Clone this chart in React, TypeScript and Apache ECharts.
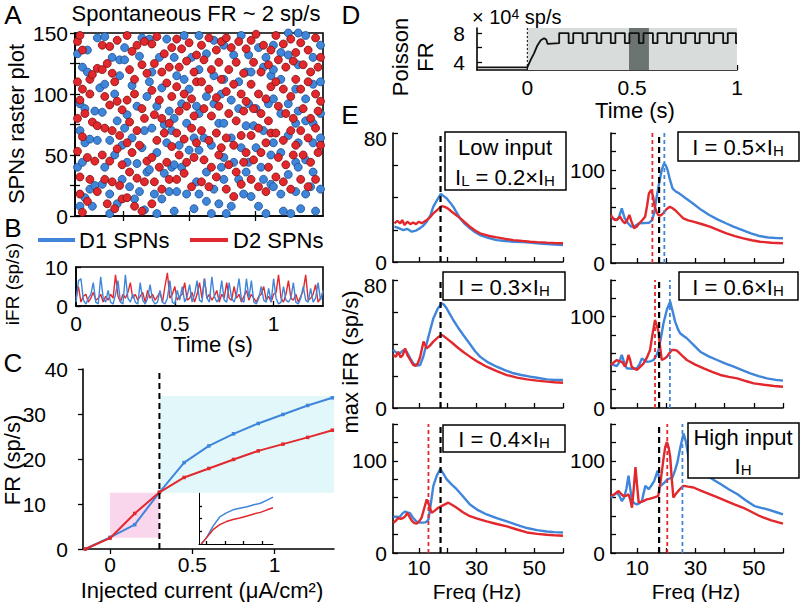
import React, { useEffect, useRef } from 'react';
import * as echarts from 'echarts';

const FONT = '"Liberation Sans", Arial, Helvetica, sans-serif';
const BLUE = '#3f86db';
const RED = '#e2282c';

// ---------- Panel A: raster (x: time bin 0-100, y: neuron 0-150)
const rasterRed: number[][] = [
  [1,143],[2,148],[3,136],[1,110],[3,104],[2,95],[6,112],[6,100],[4,84],[1,80],[7,77],[9,74],[3,65],[1,53],[5,48],[8,45],[2,32],[6,30],[2,18],[5,12],[9,20],[3,3],[7,116],[9,121],
  [11,120],[13,125],[15,117],[12,98],[14,91],[17,94],[19,87],[12,72],[15,70],[18,66],[11,50],[14,45],[17,55],[19,42],[12,30],[15,28],[18,25],[13,10],[16,6],[19,14],[11,140],[14,139],[17,144],[16,110],
  [21,148],[23,135],[25,140],[28,143],[22,120],[24,112],[27,124],[29,117],[21,95],[24,100],[27,88],[22,77],[25,70],[28,80],[21,60],[23,52],[26,58],[29,45],[22,36],[25,31],[28,28],[21,15],[24,8],[27,4],
  [31,141],[33,147],[36,133],[39,138],[32,125],[35,118],[38,122],[31,103],[34,95],[37,109],[39,98],[32,83],[35,80],[38,76],[33,62],[36,68],[39,57],[31,48],[34,40],[37,44],[32,28],[35,22],[38,30],[31,10],
  [41,145],[43,137],[46,142],[49,132],[42,122],[45,127],[48,118],[41,106],[44,100],[47,96],[49,110],[42,86],[45,90],[48,82],[41,68],[44,63],[47,72],[49,60],[42,50],[45,44],[48,48],[41,30],[44,35],[47,24],
  [51,140],[54,146],[57,136],[59,143],[52,128],[55,120],[58,126],[51,110],[54,104],[57,97],[59,112],[52,88],[55,82],[58,90],[51,70],[54,62],[57,68],[59,56],[52,46],[55,40],[58,50],[51,28],[54,24],[57,32],
  [61,146],[63,138],[66,143],[69,137],[62,120],[65,126],[68,117],[61,102],[64,108],[67,100],[69,94],[62,84],[65,78],[68,86],[61,64],[64,58],[67,66],[69,52],[62,42],[65,36],[68,44],[61,22],[64,16],[67,26],
  [71,144],[73,149],[76,140],[79,136],[72,126],[75,118],[78,124],[71,108],[74,100],[77,96],[79,106],[72,88],[75,84],[78,78],[71,66],[74,72],[77,60],[79,68],[72,46],[75,52],[78,40],[71,30],[74,24],[77,20],
  [81,148],[84,141],[87,145],[89,134],[82,128],[85,122],[88,127],[81,110],[84,104],[87,98],[89,112],[82,90],[85,84],[88,80],[81,68],[84,62],[87,70],[89,58],[82,48],[85,42],[88,50],[81,32],[84,28],[87,22],
  [91,142],[94,136],[97,146],[99,130],[92,124],[95,118],[98,122],[91,104],[94,110],[97,100],[99,94],[92,88],[95,80],[98,86],[91,70],[94,64],[97,72],[99,58],[92,50],[95,44],[98,52],[91,30],[94,24],[97,30]
];
const rasterBlue: number[][] = [
  [1,133],[3,122],[5,118],[2,92],[4,88],[2,70],[4,60],[6,63],[1,40],[3,44],[6,22],[8,25],[4,15],[7,8],[9,62],[8,86],[5,136],[9,146],[10,105],[2,8],
  [12,147],[15,130],[18,128],[12,108],[16,100],[11,85],[14,62],[17,78],[12,40],[16,50],[19,58],[11,26],[14,18],[17,10],[19,30],[14,2],[18,115],[20,138],
  [20,128],[26,131],[23,107],[29,98],[21,83],[25,90],[28,70],[23,64],[27,56],[21,44],[25,43],[29,36],[22,24],[26,20],[24,14],[28,5],[20,72],[27,146],[30,110],
  [30,145],[34,130],[37,145],[31,118],[35,105],[33,90],[38,86],[31,72],[36,75],[33,52],[37,60],[30,38],[36,35],[39,40],[32,18],[35,14],[38,20],[33,2],[39,70],
  [40,130],[44,148],[47,130],[41,115],[46,104],[43,92],[49,90],[40,80],[45,76],[42,58],[48,64],[40,42],[46,54],[43,40],[49,28],[41,20],[45,18],[48,6],[40,4],[44,112],
  [50,148],[53,133],[56,144],[50,120],[56,115],[53,98],[59,100],[50,84],[56,92],[52,64],[58,76],[50,54],[55,58],[53,36],[59,40],[50,18],[56,22],[53,12],[58,10],[55,2],
  [60,140],[64,132],[67,148],[60,112],[66,110],[63,95],[69,118],[60,76],[66,88],[63,64],[69,74],[60,48],[67,56],[64,44],[60,30],[66,30],[63,8],[68,18],[61,2],[69,36],
  [70,132],[74,138],[77,130],[71,118],[76,122],[73,88],[79,115],[70,92],[76,70],[72,74],[78,92],[70,44],[75,40],[73,56],[79,50],[71,16],[76,30],[74,8],[79,26],[77,2],
  [80,140],[83,134],[86,150],[80,120],[86,132],[83,112],[89,104],[80,96],[86,92],[83,84],[89,76],[80,60],[86,66],[83,52],[89,44],[80,24],[86,34],[83,18],[89,20],[84,4],[87,2],
  [90,150],[93,148],[96,130],[99,140],[90,124],[96,108],[93,96],[99,110],[90,86],[96,76],[93,78],[99,84],[90,60],[96,60],[93,46],[99,64],[90,40],[96,36],[93,18],[99,22],[91,6],[97,4],[95,24]
];
const rasterXTicks = [19.5, 46, 72.5];

// ---------- Panel B: instantaneous firing rate, sampled every bTimeStep s
const bTimeStep = 0.0125;
const bD1 = [1,6.5,7,1.5,0.5,2,3,6,1,0.5,7.5,2,1,4,1,0.5,3,6.5,1,0.5,8,2,1,3,1,0.5,6,1.5,0.5,2,5.5,1.5,0.5,1,4,1,0.5,2,6.5,1,0.5,4,1.5,5,1,2.5,5.5,1,3,6.5,1.5,1,7,2,1,7.5,2.5,1,2,6.5,1.5,1,6,2,1,3,7,1.5,1,7,2,6.5,1,0.5,2,5,1.5,1,4.5,1,7,2,0.5,1,5,1.5,1,2,6,1,0.5,2,5,1.5,1,4.5,1,2,6,1.5,4];
const bD2 = [2,5,1,2.5,3,1,2,3.5,1.5,2,3,1,2.5,1.5,3,2,8,2.5,1,3,2,3.5,6,2,3,1.5,2.5,3.5,1,4,2,3,1.5,2.5,3.5,1,5,8.5,2,3,5,1.5,2.5,3,6,1.5,2,3.5,1,3,6,2,7,2,3,1.5,2.5,4,1,3,2,6,2,1.5,5,2,3,1,2.5,4,1.5,3,2,1,2.5,3,5,1.5,2.5,1,3,3.5,8,2,1,3,6.5,2,1.5,3,1,2.5,4,8,1.5,2,3,5.5,1,2,3.5];

// ---------- Panel C: f-I curves
const cCurrent = [-0.15, 0, 0.15, 0.3, 0.45, 0.6, 0.75, 0.9, 1.05, 1.2, 1.35];
const cD1 = [0, 2.6, 5.4, 12.6, 19.2, 22.9, 25.6, 27.9, 29.9, 31.9, 33.6];
const cD2 = [0, 2.4, 7.9, 12.6, 15.9, 17.9, 19.9, 21.8, 23.3, 24.8, 26.4];
const cThreshold = 0.3;
const cLowRange = { x: [0, 0.3], y: [2.5, 12.5] };
const cHighRange = { x: [0.3, 1.36], y: [12.5, 34] };
const cInsetX = [0.03, 0.1, 0.19, 0.28, 0.37, 0.46, 0.55, 0.65, 0.74, 0.83, 0.92, 1];
const cInsetD1 = [0, 0.12, 0.35, 0.53, 0.61, 0.67, 0.7, 0.73, 0.77, 0.8, 0.86, 0.92];
const cInsetD2 = [0, 0.12, 0.28, 0.38, 0.44, 0.48, 0.51, 0.55, 0.59, 0.62, 0.67, 0.71];

// ---------- Panel D: Poisson input rate (x 10^4 sp/s)
const dTrace: number[][] = [[-0.24,3.25],[0,3.25],[0.016,4.3],[0.032,5.2],[0.048,6.3],[0.064,7.0],[0.08,7.3],[0.09,7.1],[0.097,6.5],[0.152,6.6],[0.152,8],[0.197,8],[0.197,6.6],[0.219,6.6],[0.219,8],[0.264,8],[0.264,6.6],[0.286,6.6],[0.286,8],[0.331,8],[0.331,6.6],[0.353,6.6],[0.353,8],[0.398,8],[0.398,6.6],[0.42,6.6],[0.42,8],[0.465,8],[0.465,6.6],[0.487,6.6],[0.487,8],[0.532,8],[0.532,6.6],[0.554,6.6],[0.554,8],[0.599,8],[0.599,6.6],[0.621,6.6],[0.621,8],[0.666,8],[0.666,6.6],[0.688,6.6],[0.688,8],[0.733,8],[0.733,6.6],[0.755,6.6],[0.755,8],[0.8,8],[0.8,6.6],[0.822,6.6],[0.822,8],[0.867,8],[0.867,6.6],[0.889,6.6],[0.889,8],[0.934,8],[0.934,6.6],[0.956,6.6],[0.956,8],[0.995,8],[0.995,6.6],[1,6.6]];
const dStimOn = [0, 1];
const dWindow = [0.485, 0.58];

// ---------- Panel E: max iFR vs frequency
const e1D1 = [[1.5,22],[3,21],[4.6,19.8],[6,20.5],[7.5,18.8],[9,19.5],[10.4,21],[11.5,22.5],[12.7,25],[14,29],[15,34.3],[16.5,39],[17.6,42.2],[18.5,41],[19.6,39.5],[21,36.5],[21.9,34.3],[23,31],[24.3,27],[26,23.5],[27.7,20.9],[29.5,18.5],[31.2,16.7],[34,15],[37,13.6],[40,13],[42.8,12.6],[46,12.3],[48.6,12],[51,11.6],[54.4,11.2],[57,10.8],[60,10.5]];
const e1D2 = [[1.5,24],[2.5,25.5],[3.5,24],[4.2,26],[5,23],[6,25],[7,23.5],[8,24.5],[9,23.5],[10,25],[11,24],[12.7,26],[14,28],[15,30.2],[16.5,32.5],[17.9,34.7],[19,34.2],[20,33.3],[21.5,31],[23,29],[24.3,27.2],[26,24.5],[27.7,21.9],[29.5,19.5],[31.2,17.8],[34,16.3],[37,15.3],[40,14.3],[42.8,13.6],[46,13],[48.6,12.6],[51,12.3],[54.4,12],[57,11.8],[60,11.6]];
const e2D1 = [[1,49.9],[2,47.5],[3,46.3],[3.8,50],[4.7,58.9],[5.7,48.1],[6.8,43],[7.9,39.1],[9.3,40],[10.7,42.8],[12.4,43],[14.1,43.4],[15,46],[15.8,53.5],[16.6,70],[17.5,85.8],[18.4,100],[19.2,107.4],[19.8,105],[20.4,100.2],[21.2,90],[22.1,80.4],[23.2,77],[24.4,75],[26.5,70],[29,64.3],[31.8,57.5],[34.7,51.7],[37.5,47],[40.4,42.8],[43.2,39],[46.1,35.5],[49,32],[51.8,29.1],[55,27.5],[58,26.8],[60,26.6]];
const e2D2 = [[1,51.7],[1.7,48],[2.4,46.3],[3.2,47],[4.1,49.9],[5,45],[5.8,42.8],[6.5,46],[7.3,51.7],[8.1,44],[8.9,37.4],[9.8,39],[10.7,42.8],[11.7,46],[12.7,49.9],[13.4,62],[14,75],[14.8,78.6],[15.4,72],[16,60.6],[16.6,55],[17.2,51.7],[18,51],[18.9,53.5],[20,58],[21.2,60.6],[22.1,59],[22.9,57.1],[24.4,52.5],[25.8,48.1],[27.5,46],[29.2,44.5],[32,42],[34.9,39.1],[37.8,35.5],[40.6,32],[43.5,29],[46.4,26.6],[49.3,24.5],[52.1,22.9],[56,21.8],[60,21.2]];
const e3D1 = [[1.1,36.3],[2.2,34.5],[3.4,34.2],[4.5,36],[5.7,35.2],[7,31],[8,27.9],[9.2,26.5],[10.4,26.9],[11.5,32],[12.7,40.4],[13.8,48],[15,56],[16.5,62],[17.9,65.4],[18.7,64.5],[19.6,62.3],[20.8,58.5],[21.9,55],[23.5,50.5],[25.4,45.6],[27.5,40.5],[29.5,35.5],[31.2,32.1],[34,28.5],[37,25.8],[40,23.5],[42.8,21.7],[45.5,20.6],[48.6,19.6],[51,18.9],[54.4,17.9],[57,17.6],[60,17.5]];
const e3D2 = [[1.1,33.1],[2,32],[2.8,35.2],[3.6,31.7],[4.4,33],[5.2,37.3],[6,33],[7,30],[8,27],[8.8,26.3],[9.6,28],[10.4,31.7],[11.6,41.5],[12.7,37.3],[13.8,39],[15,41.5],[16.5,44],[17.9,45.6],[18.7,44.8],[19.6,43.5],[21.5,40.8],[23.1,38.3],[25.4,35],[27.7,32.1],[30.5,28.8],[33.5,25.8],[37,23],[40.5,20.6],[44,19],[47.5,17.9],[51,17.1],[54.4,16.5],[57,16.1],[60,15.8]];
const e4D1 = [[1,48.9],[2,47],[3,45.9],[3.8,50],[4.7,58],[5.5,50],[6.4,43.4],[8,43],[9.9,43.4],[10.8,48],[11.6,54.3],[12.5,52],[13.3,50.6],[14.5,51],[15.6,52.5],[16.5,57],[17.3,63.5],[18.2,78],[19,92.7],[20.2,108],[21.3,116.3],[22.2,105],[23,94.5],[24,86],[24.7,81.7],[25.8,79],[27,76.3],[29.3,69],[31.6,61.6],[34.5,56.5],[37.4,52.5],[40.3,48.5],[43.1,45.2],[46,41.5],[48.8,37.9],[51.6,34.8],[54.5,32.4],[57.5,30.8],[60,29.9]];
const e4D2 = [[1,47],[2,50],[3,52.5],[3.8,51],[4.7,50.6],[5.3,48],[5.8,45.2],[6.4,50],[7,58],[7.6,52],[8.1,45.2],[9,43],[9.9,41.6],[11,45],[12.2,48.9],[13.3,55],[14.4,63.5],[15.2,80],[16.1,96.3],[16.7,90],[17.3,83.5],[17.8,68],[18.4,52.5],[19.3,54],[20.2,56.1],[21,60],[21.9,63.5],[22.8,63.5],[23.6,62.7],[25.3,57.5],[27,52.5],[29.9,47.5],[32.8,43.4],[35.7,39.5],[38.5,36.1],[41.4,34],[44.3,32.4],[47.2,29.5],[50,27],[53.5,25.5],[56.9,24.1],[60,23.3]];
const e5D1 = [[1.1,39.4],[2.2,39],[3.4,39.4],[4.3,43],[5.2,45],[6,44],[6.9,43.2],[8,38],[9.2,34],[10.4,33],[11.6,33],[12.5,33.5],[13.3,36.3],[14.2,55],[15,72.9],[16.2,84],[17.4,91.2],[18.5,86],[19.6,80.2],[21.3,74.5],[23.1,69.2],[25.4,61],[27.7,52.7],[30.5,46.5],[33.5,41.8],[37,37.8],[40.5,34.4],[44,30.5],[47.5,27.1],[51,24.8],[54.4,23.4],[57,22.7],[60,22.3]];
const e5D2 = [[1.1,32.6],[2,35],[2.8,38.1],[3.7,37],[4.6,38.1],[5.3,40],[6,43.6],[6.8,39],[7.5,35.2],[8.4,32.5],[9.2,31.9],[10,34],[10.9,38.1],[11.8,48],[12.7,58.2],[13.5,52],[14.4,43.6],[15.5,46],[16.7,49.1],[18.5,52],[20.2,54.6],[21.6,52],[23.1,49.1],[25.4,44],[27.7,39.9],[30.5,37],[33.5,34.4],[37,31.5],[40.5,28.9],[44,25.5],[47.5,22.3],[51,20.8],[54.4,19.8],[57,19.2],[60,18.7]];
const e6D1 = [[1,60.1],[2,63],[3,65.6],[3.9,62],[4.7,56.4],[5.5,60],[6.3,70],[7,83.8],[7.6,70],[8.2,56.4],[9,54],[9.9,52.7],[10.8,54],[11.6,56.4],[12.2,65],[12.8,72.9],[13.4,71],[13.9,69.2],[14.8,73],[15.8,78],[17,89.3],[17.6,80],[18.1,72.9],[19.2,76],[20.4,80.2],[21.3,81],[22.1,82.1],[23,90],[23.8,98.6],[24.8,115],[25.9,129.7],[26.6,122],[27.3,109.6],[27.8,98],[28.4,91.2],[29.5,89],[30.7,87.6],[32.4,85.5],[34.1,83.8],[36.4,79],[38.7,74.7],[41.5,69],[44.4,63.7],[47.3,57],[50.2,50.9],[52.5,49],[54.7,47.3],[57.5,44.5],[60,41.8]];
const e6D2 = [[1,61.9],[2.3,64],[3.6,67.4],[4.5,64],[5.3,61.9],[6.2,62],[7,63.7],[7.6,58],[8.2,49.1],[8.8,70],[9.4,93.1],[9.9,75],[10.5,54.6],[11.9,56],[13.3,58.2],[14.5,59],[15.6,60.1],[16.4,61],[17.2,61.9],[18.1,80],[19,102.2],[19.6,115],[20.2,120.5],[20.8,114],[21.3,104.6],[21.8,82],[22.4,60.1],[23.2,64],[24.1,67.4],[25,70.5],[25.8,72.9],[27.5,72],[29.3,71.1],[32,67.5],[35,63.7],[37.8,60],[40.6,56.4],[43.5,52.5],[46.4,49.1],[49.3,44.5],[52.1,39.9],[56,35.5],[60,31.9]];
const eResonance = 17.5;
const eD2Peak = [null, 15.2, null, 16.1, 13.3, 20.3];
const eD1Peak = [null, 19.3, null, 21.2, null, 25.5];
const eYMax = [80, 140, 80, 140, 140, 140];
const eFreqTicks = [10, 20, 30, 40, 50, 60];
const eFreqLabels = [10, 30, 50];

// ---------- styling helpers
const tickStyle = { color: '#000', width: 1.3 };
const axLine = { show: true, onZero: false, lineStyle: { color: '#000', width: 1.6 } };
const lbl = (extra: any = {}) => ({ show: true, color: '#000', fontSize: 21, fontFamily: FONT, ...extra });
const noSplit = { show: false };

function axis(gridIndex: number, min: number, max: number, tick: any, label: any, extra: any = {}) {
  return {
    type: 'value', gridIndex, min, max,
    axisLine: axLine, splitLine: noSplit,
    axisTick: tick ? { show: true, inside: true, length: 5, lineStyle: tickStyle, ...tick } : { show: false },
    axisLabel: label ? lbl(label) : { show: false },
    ...extra,
  };
}

const eGrids = [
  { left: 393, top: 133, width: 170, height: 129 },
  { left: 611, top: 133, width: 172, height: 130 },
  { left: 393, top: 280, width: 170, height: 128 },
  { left: 611, top: 280, width: 172, height: 128 },
  { left: 393, top: 424, width: 170, height: 129 },
  { left: 611, top: 424, width: 172, height: 129 },
];
const eData = [[e1D1, e1D2], [e2D1, e2D2], [e3D1, e3D2], [e4D1, e4D2], [e5D1, e5D2], [e6D1, e6D2]];

function buildOption() {
  const grid: any[] = [
    { left: 75, top: 33, width: 248, height: 183, show: true, borderColor: '#000', borderWidth: 1.6 },
    { left: 76, top: 267, width: 247, height: 39, show: true, borderColor: '#000', borderWidth: 1.6 },
    { left: 83, top: 369, width: 251, height: 180 },
    { left: 199, top: 493, width: 74, height: 51 },
    { left: 477, top: 28, width: 260, height: 42 },
    ...eGrids,
  ].map((g) => ({ ...g, outerBoundsMode: 'none', containLabel: false }));

  const xAxis: any[] = [];
  const yAxis: any[] = [];
  // A (0)
  xAxis.push(axis(0, 0, 100, { customValues: rasterXTicks }, null));
  yAxis.push(axis(0, 0, 150, {}, { margin: 7, formatter: (v: number) => (v % 50 === 0 ? String(v) : '') }, { interval: 25 }));
  // B (1)
  xAxis.push(axis(1, 0, 1.25, { customValues: [0.5, 1] }, { margin: 7, customValues: [0, 0.5, 1] }));
  yAxis.push(axis(1, 0, 10, {}, { margin: 8 }, { interval: 10 }));
  // C (2)
  xAxis.push(axis(2, -0.164, 1.36, { inside: false, customValues: [0, 0.5, 1] }, { margin: 5, customValues: [0, 0.5, 1] }));
  yAxis.push(axis(2, 0, 40, { inside: false }, {
    margin: 15,
    formatter: (v: number) => (v === 0 || v === 40 ? String(v) : `{s|${v}}`),
    rich: { s: { fontSize: 21, fontFamily: FONT, color: '#000', padding: [0, 22, 0, 0] } },
  }, { interval: 10 }));
  // C inset (3)
  xAxis.push(axis(3, 0, 1, { length: 3, customValues: [0.1, 0.35, 0.6, 0.85] }, null, { axisLine: { show: true, onZero: false, lineStyle: { color: '#000', width: 1 } } }));
  yAxis.push(axis(3, 0, 1, { length: 3, customValues: [0.25, 0.5, 0.75] }, null, { axisLine: { show: true, onZero: false, lineStyle: { color: '#000', width: 1 } } }));
  // D (4)
  xAxis.push(axis(4, -0.24, 1, { customValues: [0, 0.5, 1] }, { margin: 7, customValues: [0, 0.5, 1] }));
  yAxis.push(axis(4, 2.9, 8.7, { customValues: [4, 6, 8] }, { margin: 12, customValues: [4, 8] }));
  // E (5..10)
  eGrids.forEach((_, i) => {
    const g = 5 + i;
    const bottom = i >= 4;
    xAxis.push(axis(g, 1, 60, { customValues: eFreqTicks }, bottom ? { margin: 4, customValues: eFreqLabels } : null));
    const ymax = eYMax[i];
    const show = ymax === 80 ? [0, 80] : [0, 100];
    yAxis.push(axis(g, 0, ymax, {}, {
      margin: 6,
      formatter: (v: number) => (!show.includes(v) ? '' : v === 80 ? '{t|80}' : String(v)),
      rich: { t: { fontSize: 21, fontFamily: FONT, color: '#000', padding: [10, 0, 0, 0] } },
    }, { interval: 20 }));
  });
  // A top/right box ticks (11)
  xAxis.push(axis(0, 0, 100, { customValues: rasterXTicks }, null, { position: 'top', axisLine: { show: false } }));
  yAxis.push(axis(0, 0, 150, {}, null, { position: 'right', interval: 25, axisLine: { show: false } }));

  const series: any[] = [];
  const lineS = (xi: number, data: any[], color: string, width: number, extra: any = {}) => ({
    type: 'line', xAxisIndex: xi, yAxisIndex: xi, data, symbol: 'none', silent: true,
    lineStyle: { color, width }, z: 3, ...extra,
  });

  // A raster
  series.push({ type: 'scatter', xAxisIndex: 0, yAxisIndex: 0, data: rasterBlue, symbolSize: 8, clip: false, silent: true,
    itemStyle: { color: BLUE, borderColor: '#1d4f91', borderWidth: 0.8, opacity: 1 }, z: 3 });
  series.push({ type: 'scatter', xAxisIndex: 0, yAxisIndex: 0, data: rasterRed, symbolSize: 8, clip: false, silent: true,
    itemStyle: { color: RED, borderColor: '#7a1010', borderWidth: 0.8, opacity: 1 }, z: 4 });

  // B traces
  series.push(lineS(1, bD2.map((v, i) => [i * bTimeStep, v]), RED, 1.4));
  series.push(lineS(1, bD1.map((v, i) => [i * bTimeStep, v]), BLUE, 1.4, { z: 4 }));

  // C
  series.push({
    type: 'line', xAxisIndex: 2, yAxisIndex: 2, data: [], z: 1, silent: true,
    markArea: {
      silent: true,
      data: [
        [{ xAxis: cLowRange.x[0], yAxis: cLowRange.y[0], itemStyle: { color: '#f9d6ec', opacity: 1 } }, { xAxis: cLowRange.x[1], yAxis: cLowRange.y[1] }],
        [{ xAxis: cHighRange.x[0], yAxis: cHighRange.y[0], itemStyle: { color: '#e1f7fa', opacity: 1 } }, { xAxis: cHighRange.x[1], yAxis: cHighRange.y[1] }],
      ],
    },
  });
  series.push(lineS(2, [[cThreshold, 0], [cThreshold, 40]], '#000', 2, { lineStyle: { color: '#000', width: 2, type: [6, 4] }, z: 5 }));
  series.push(lineS(2, cCurrent.map((x, i) => [x, cD1[i]]), BLUE, 2, { symbol: 'rect', symbolSize: 3.5, itemStyle: { color: BLUE }, showSymbol: true }));
  series.push(lineS(2, cCurrent.map((x, i) => [x, cD2[i]]), RED, 2, { symbol: 'rect', symbolSize: 3.5, itemStyle: { color: RED }, showSymbol: true, z: 4 }));
  series.push(lineS(3, cInsetX.map((x, i) => [x, cInsetD1[i]]), BLUE, 1.5));
  series.push(lineS(3, cInsetX.map((x, i) => [x, cInsetD2[i]]), RED, 1.5));

  // D
  series.push({
    type: 'line', xAxisIndex: 4, yAxisIndex: 4, data: [], z: 1, silent: true,
    markArea: {
      silent: true,
      data: [
        [{ xAxis: dStimOn[0], itemStyle: { color: '#d8dcdb', opacity: 1 } }, { xAxis: dStimOn[1] }],
        [{ xAxis: dWindow[0], itemStyle: { color: '#6c7472', opacity: 1 } }, { xAxis: dWindow[1] }],
      ],
    },
  });
  series.push(lineS(4, [[0, 2.9], [0, 8.7]], '#000', 1, { lineStyle: { color: '#000', width: 1, type: [2, 2] } }));
  series.push(lineS(4, dTrace, '#111', 1.8, { z: 5 }));

  // E
  eData.forEach(([d1, d2], i) => {
    const g = 5 + i;
    const ymax = eYMax[i];
    series.push(lineS(g, d1, BLUE, 2.4));
    series.push(lineS(g, d2, RED, 2.4, { z: 4 }));
    series.push(lineS(g, [[eResonance, 0], [eResonance, ymax]], '#000', 2.2, { lineStyle: { color: '#000', width: 2.2, type: [6, 4] }, z: 6 }));
    if (eD2Peak[i] != null) series.push(lineS(g, [[eD2Peak[i], 0], [eD2Peak[i], ymax]], RED, 1.8, { lineStyle: { color: RED, width: 1.8, type: [4, 3] }, z: 6 }));
    if (eD1Peak[i] != null) series.push(lineS(g, [[eD1Peak[i], 0], [eD1Peak[i], ymax]], BLUE, 1.8, { lineStyle: { color: BLUE, width: 1.8, type: [4, 3] }, z: 6 }));
  });

  // ---------- graphic texts
  const T = (text: string, x: number, y: number, size = 22, extra: any = {}, elExtra: any = {}) => ({
    type: 'text', x, y, z: 100, silent: true, ...elExtra,
    style: { text, fontSize: size, fontFamily: FONT, fill: '#000', align: 'center', verticalAlign: 'middle', textAlign: 'center', textVerticalAlign: 'middle', ...extra },
  });
  const R = (text: string, x: number, y: number, size = 22) => T(text, x, y, size, {}, { rotation: Math.PI / 2 });
  const subRich = {
    m: { fontSize: 22, fontFamily: FONT, fill: '#000', color: '#000', lineHeight: 22, padding: [0, 0, 5, 0], verticalAlign: 'top' },
    s: { fontSize: 15, fontFamily: FONT, fill: '#000', color: '#000', lineHeight: 15, verticalAlign: 'bottom' },
  };
  const RT = (text: string, x: number, y: number) => T(text, x, y, 22, { rich: subRich });
  const box = (x: number, y: number, w: number, h: number) => ({
    type: 'rect', z: 99, silent: true, shape: { x, y, width: w, height: h }, style: { fill: '#fff', stroke: '#000', lineWidth: 1.5 },
  });

  const graphic: any[] = [
    T('A', 13, 15, 26),
    T('Spontaneous FR ~ 2 sp/s', 196, 13, 22),
    R('SPNs raster plot', 16, 124, 22),
    T('B', 13, 228, 26),
    R('iFR (sp/s)', 12, 284, 19),
    T('Time (s)', 213, 344, 22),
    T('C', 13, 363, 26),
    R('FR (sp/s)', 12, 460, 22),
    T('Injected current (μA/cm²)', 202, 590, 22),
    T('D', 351, 15, 26),
    R('Poisson', 400, 57, 22),
    R('FR', 425, 57, 22),
    T('{m|× 10}{p|4}{m| sp/s}', 472, 17, 20, {
      align: 'left', textAlign: 'left',
      rich: {
        m: { fontSize: 20, fontFamily: FONT, fill: '#000', color: '#000', lineHeight: 20, padding: [5, 0, 0, 0], verticalAlign: 'bottom' },
        p: { fontSize: 14, fontFamily: FONT, fill: '#000', color: '#000', lineHeight: 14, verticalAlign: 'top' },
      },
    }),
    T('Time (s)', 635, 110, 22),
    T('E', 350, 115, 26),
    R('max iFR (sp/s)', 350, 362, 22),
    T('Freq (Hz)', 477, 591, 21),
    T('Freq (Hz)', 696, 591, 21),
    // legend of B
    { type: 'line', z: 100, silent: true, shape: { x1: 38, y1: 240, x2: 75, y2: 240 }, style: { stroke: BLUE, lineWidth: 4 } },
    T('D1 SPNs', 79, 240, 22, { align: 'left', textAlign: 'left' }),
    { type: 'line', z: 100, silent: true, shape: { x1: 190, y1: 240, x2: 228, y2: 240 }, style: { stroke: RED, lineWidth: 4 } },
    T('D2 SPNs', 233, 240, 22, { align: 'left', textAlign: 'left' }),
    // E annotation boxes
    box(445, 132, 121, 58),
    T('Low input', 505, 147, 22),
    RT('{m|I}{s|L}{m| = 0.2×I}{s|H}', 505, 177),
    box(678, 132, 121, 29),
    RT('{m|I = 0.5×I}{s|H}', 738, 147),
    box(443, 272, 122, 28),
    RT('{m|I = 0.3×I}{s|H}', 504, 287),
    box(679, 272, 119, 28),
    RT('{m|I = 0.6×I}{s|H}', 738, 287),
    box(443, 425, 122, 27),
    RT('{m|I = 0.4×I}{s|H}', 504, 439),
    box(688, 423, 111, 55),
    T('High input', 743, 437, 22),
    RT('{m|I}{s|H}', 743, 466),
  ];

  return {
    animation: false,
    backgroundColor: '#fff',
    textStyle: { fontFamily: FONT },
    grid, xAxis, yAxis, series, graphic,
  };
}

export default function App() {
  const ref = useRef<HTMLDivElement>(null);
  useEffect(() => {
    if (!ref.current) return;
    const chart = echarts.init(ref.current, null, { renderer: 'svg' });
    chart.setOption(buildOption() as any);
    return () => chart.dispose();
  }, []);
  return <div ref={ref} style={{ position: 'absolute', left: 0, top: 0, width: 802, height: 602, background: '#fff' }} />;
}
